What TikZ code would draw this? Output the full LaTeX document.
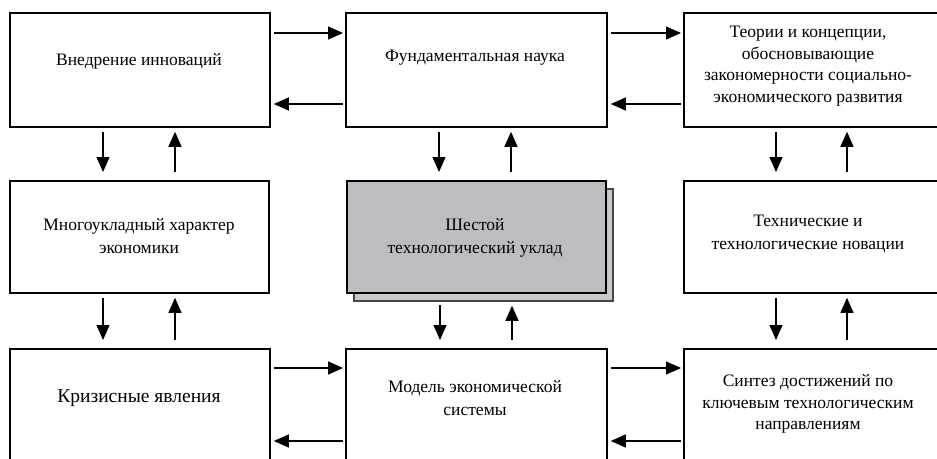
\documentclass[tikz,border=0pt]{standalone}
\usepackage{fontspec}
\setmainfont{Liberation Serif}
\usetikzlibrary{arrows.meta,calc}
\definecolor{mainfill}{RGB}{188,189,193}
\definecolor{shadfill}{RGB}{200,200,203}
\definecolor{shaddraw}{RGB}{70,70,72}
\begin{document}
\begin{tikzpicture}[x=1pt,y=-1pt,
 box/.style={draw, line width=1.8pt, rectangle, inner sep=0pt, anchor=north west},
 arr/.style={line width=1.1pt, -{Triangle[length=15pt,width=13pt]}},
 txt/.style={align=center, font=\fontsize{17.5}{23}\selectfont, inner sep=0pt},
]
\useasboundingbox (0,0) rectangle (937,458);
\clip (0,0) rectangle (937,458);
% boxes
\node[box, minimum width=260pt, minimum height=114pt] (A) at (9,12) {};
\node[box, minimum width=261pt, minimum height=114pt] (B) at (345,12) {};
\node[box, minimum width=260pt, minimum height=114pt] (C) at (683,12) {};
\node[box, minimum width=259pt, minimum height=112pt] (D) at (9,180) {};
\node[box, minimum width=259pt, minimum height=112pt, fill=shadfill, draw=shaddraw] (Es) at (353,188) {};
\node[box, minimum width=259pt, minimum height=112pt, fill=mainfill] (E) at (346,180) {};
\node[box, minimum width=260pt, minimum height=112pt] (F) at (683,180) {};
\node[box, minimum width=260pt, minimum height=130pt] (G) at (9,348) {};
\node[box, minimum width=261pt, minimum height=130pt] (H) at (345,348) {};
\node[box, minimum width=260pt, minimum height=130pt] (I) at (683,348) {};
% texts
\node[txt] (tA) at (139,61) {Внедрение инноваций};
\node[txt] (tB) at (475,58) {Фундаментальная наука};
\node[txt, font=\fontsize{17.5}{21.5}\selectfont] (tC) at (808,66) {Теории и концепции,\\обосновывающие\\закономерности социально-\\экономического развития};
\node[txt] (tD) at (139,236) {Многоукладный характер\\экономики};
\node[txt] (tE) at (475,238) {Шестой\\технологический уклад};
\node[txt] (tF) at (808,234) {Технические и\\технологические новации};
\node[txt, font=\fontsize{19.5}{23}\selectfont] (tG) at (139,398) {Кризисные явления};
\node[txt] (tH) at (475,398) {Модель экономической\\системы};
\node[txt, font=\fontsize{17.5}{21.5}\selectfont] (tI) at (808,404) {Синтез достижений по\\ключевым технологическим\\направлениям};
% horizontal arrows, top row
\draw[arr] ($(A.north east)+(3,21)$) -- ($(B.north west)+(-2,21)$);
\draw[arr] ($(B.north west)+(-2,92)$) -- ($(A.north east)+(3,92)$);
\draw[arr] ($(B.north east)+(3,21)$) -- ($(C.north west)+(-2,21)$);
\draw[arr] ($(C.north west)+(-2,92)$) -- ($(B.north east)+(3,92)$);
% horizontal arrows, bottom row
\draw[arr] ($(G.north east)+(3,20)$) -- ($(H.north west)+(-2,20)$);
\draw[arr] ($(H.north west)+(-2,93)$) -- ($(G.north east)+(3,93)$);
\draw[arr] ($(H.north east)+(3,20)$) -- ($(I.north west)+(-2,20)$);
\draw[arr] ($(I.north west)+(-2,93)$) -- ($(H.north east)+(3,93)$);
% vertical arrows, top to middle
\draw[arr] ($(A.south west)+(94,4)$) -- ($(D.north west)+(94,-8)$);
\draw[arr] ($(D.north west)+(166,-8)$) -- ($(A.south west)+(166,4)$);
\draw[arr] ($(B.south west)+(94,4)$) -- ($(E.north west)+(93,-8)$);
\draw[arr] ($(E.north west)+(165,-8)$) -- ($(B.south west)+(166,4)$);
\draw[arr] ($(C.south west)+(93,4)$) -- ($(F.north west)+(93,-8)$);
\draw[arr] ($(F.north west)+(164,-8)$) -- ($(C.south west)+(164,4)$);
% vertical arrows, middle to bottom
\draw[arr] ($(D.south west)+(94,4)$) -- ($(G.north west)+(94,-8)$);
\draw[arr] ($(G.north west)+(166,-8)$) -- ($(D.south west)+(166,4)$);
\draw[arr] ($(Es.south west)+(87,3)$) -- ($(H.north west)+(95,-8)$);
\draw[arr] ($(H.north west)+(167,-8)$) -- ($(Es.south west)+(159,4)$);
\draw[arr] ($(F.south west)+(93,4)$) -- ($(I.north west)+(93,-8)$);
\draw[arr] ($(I.north west)+(164,-8)$) -- ($(F.south west)+(164,4)$);
\end{tikzpicture}
\end{document}
